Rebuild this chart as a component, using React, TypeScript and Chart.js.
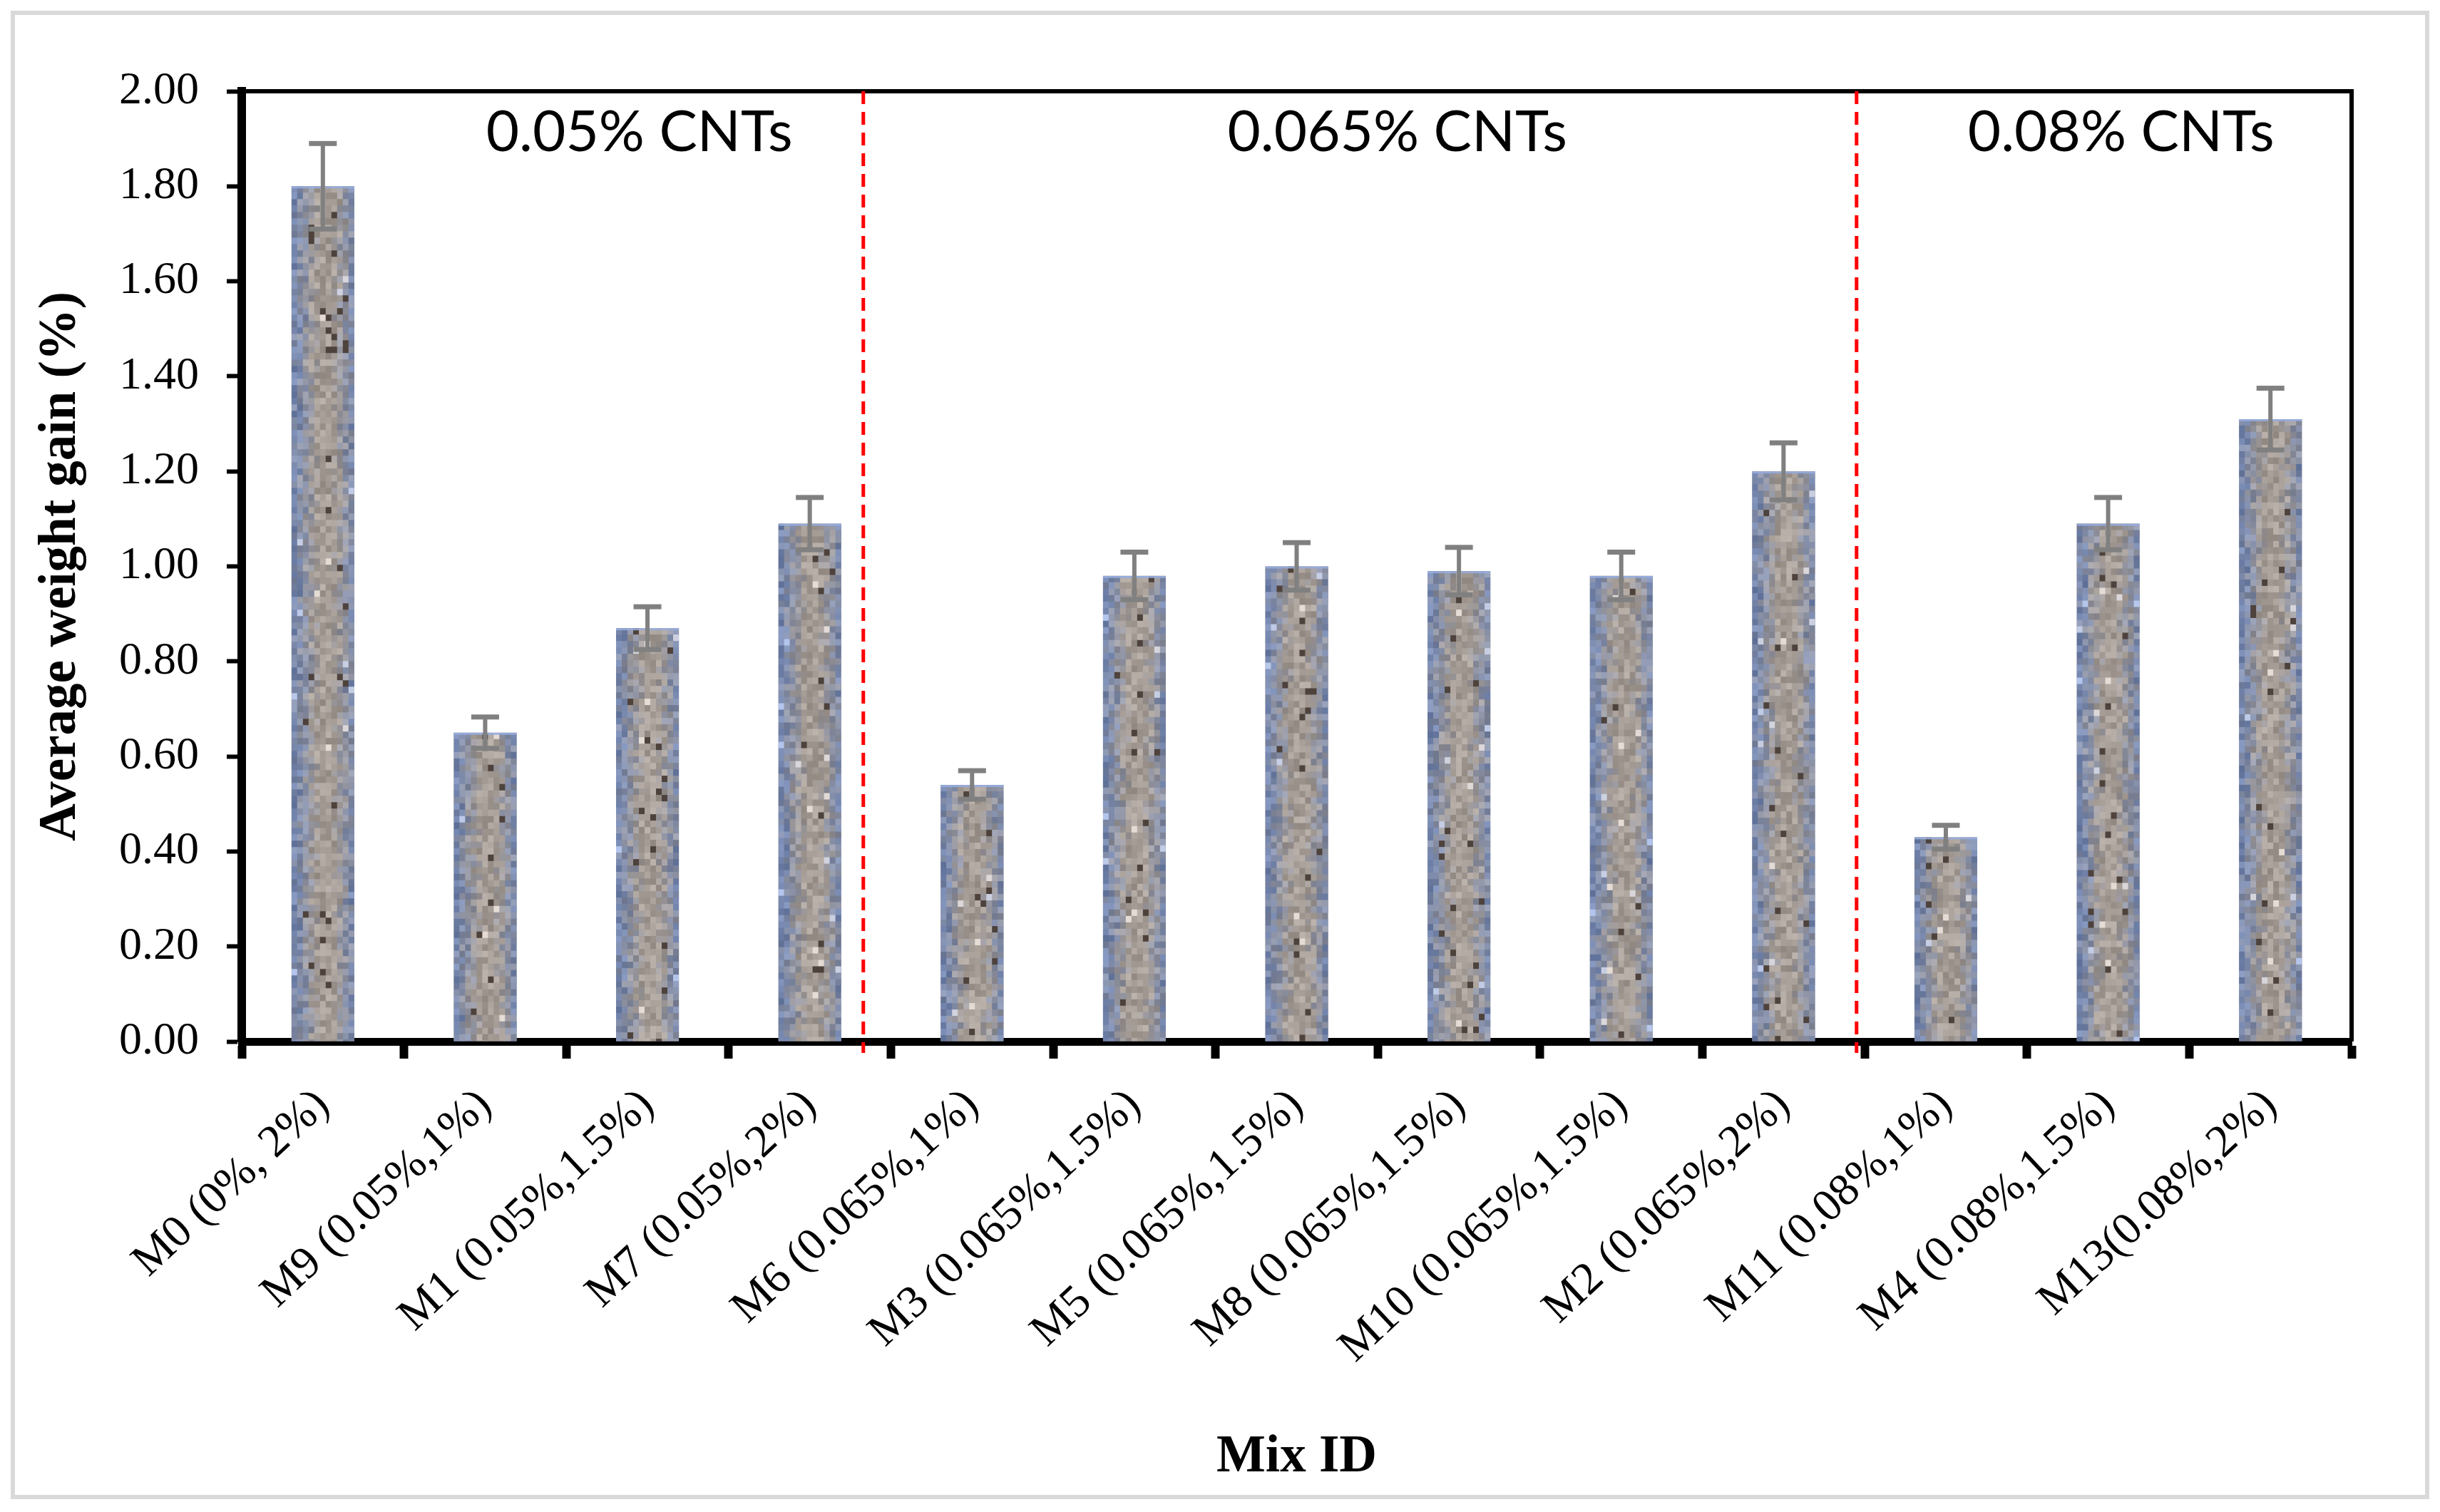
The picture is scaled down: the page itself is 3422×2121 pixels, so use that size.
import React, { useEffect, useRef } from 'react';
import { Chart, registerables } from 'chart.js';

Chart.register(...registerables);

// ---------- data ----------
const categories = [
  'M0 (0%, 2%)',
  'M9 (0.05%,1%)',
  'M1 (0.05%,1.5%)',
  'M7 (0.05%,2%)',
  'M6 (0.065%,1%)',
  'M3 (0.065%,1.5%)',
  'M5 (0.065%,1.5%)',
  'M8 (0.065%,1.5%)',
  'M10 (0.065%,1.5%)',
  'M2 (0.065%,2%)',
  'M11 (0.08%,1%)',
  'M4 (0.08%,1.5%)',
  'M13(0.08%,2%)',
];
const weightGain = [1.8, 0.65, 0.87, 1.09, 0.54, 0.98, 1.0, 0.99, 0.98, 1.2, 0.43, 1.09, 1.31];
const errorValues = [0.09, 0.033, 0.045, 0.055, 0.03, 0.05, 0.05, 0.05, 0.05, 0.06, 0.025, 0.055, 0.065];
const yMin = 0;
const yMax = 2;
const yStep = 0.2;
const groupLabels = ['0.05% CNTs', '0.065% CNTs', '0.08% CNTs'];
const groupLabelCenters = [1.95, 6.62, 11.08]; // in category-index units
const groupLabelValue = 1.874; // baseline, in y units
const dividerPositions = [3.33, 9.45]; // in category-index units
const yTitle = 'Average weight gain (%)';
const xTitle = 'Mix ID';

// ---------- helpers ----------
function hash3(a: number, b: number, c: number): number {
  let h = Math.imul(a + 1, 374761393) ^ Math.imul(b + 7, 668265263) ^ Math.imul(c + 13, 1274126177);
  h = Math.imul(h ^ (h >>> 13), 1274126177);
  h = h ^ (h >>> 16);
  return (h >>> 0) / 4294967295;
}
function mix(a: number[], b: number[], t: number): number[] {
  return [a[0] + (b[0] - a[0]) * t, a[1] + (b[1] - a[1]) * t, a[2] + (b[2] - a[2]) * t];
}
function clamp(v: number) {
  return Math.max(0, Math.min(255, Math.round(v)));
}

const pagePlugin = {
  id: 'pageFrame',
  beforeDraw(chart: any) {
    const ctx = chart.ctx;
    ctx.save();
    ctx.fillStyle = '#ffffff';
    ctx.fillRect(0, 0, chart.width, chart.height);
    ctx.strokeStyle = '#D9D9D9';
    ctx.lineWidth = 6;
    ctx.strokeRect(18, 18, chart.width - 36, chart.height - 39);
    ctx.restore();
  },
};

const texturePlugin = {
  id: 'barTexture',
  afterDatasetsDraw(chart: any) {
    const ctx = chart.ctx;
    const meta = chart.getDatasetMeta(0);
    const yScale = chart.scales.y;
    const blue = [116, 134, 174];
    const warm = [166, 157, 150];
    meta.data.forEach((bar: any, i: number) => {
      const p = bar.getProps(['x', 'y', 'base', 'width'], true);
      const left = p.x - p.width / 2;
      const top = p.y;
      const h = p.base - p.y;
      const cellW = 8;
      const cellH = 9;
      const cols = Math.ceil(p.width / cellW);
      const rows = Math.ceil(h / cellH);
      ctx.save();
      ctx.beginPath();
      ctx.rect(left, top, p.width, h);
      ctx.clip();
      for (let r = 0; r < rows; r++) {
        for (let c = 0; c < cols; c++) {
          const cx = (c + 0.5) / cols;
          const edge = Math.abs(cx - 0.5) * 2;
          const n = hash3(i, r, c);
          const n2 = hash3(i + 57, r * 3 + 1, c * 5 + 2);
          const t = Math.max(0, Math.min(1, edge * 1.5 - 0.4 + (n2 - 0.5) * 0.6));
          let col = mix(warm, blue, t);
          let k = (n - 0.5) * 46;
          if (n > 0.985) k += 40;
          let dark = false;
          if (n < 0.022 && edge < 0.65) {
            dark = true;
          }
          if (dark) {
            col = [78, 66, 60];
            k = 0;
          }
          col = [col[0] + k, col[1] + k, col[2] + k];
          ctx.fillStyle = `rgb(${clamp(col[0])},${clamp(col[1])},${clamp(col[2])})`;
          ctx.fillRect(left + c * cellW, top + r * cellH, cellW + 0.5, cellH + 0.5);
        }
      }
      ctx.fillStyle = 'rgba(150,172,222,0.9)';
      ctx.fillRect(left, top, p.width, 3);
      ctx.restore();

      // error bars
      const v = weightGain[i];
      const e = errorValues[i];
      const yHi = yScale.getPixelForValue(v + e);
      const yLo = yScale.getPixelForValue(v - e);
      ctx.save();
      ctx.strokeStyle = '#808080';
      ctx.fillStyle = '#808080';
      ctx.lineWidth = 6;
      ctx.beginPath();
      ctx.moveTo(p.x, yHi);
      ctx.lineTo(p.x, yLo);
      ctx.stroke();
      ctx.fillRect(p.x - 19.5, yHi - 3.5, 39, 7);
      ctx.fillRect(p.x - 19.5, yLo - 3.5, 39, 7);
      ctx.restore();
    });

    // group labels
    const xScale = chart.scales.x;
    ctx.save();
    ctx.fillStyle = '#000000';
    ctx.font = '80px Lato';
    ctx.textAlign = 'center';
    ctx.textBaseline = 'alphabetic';
    groupLabels.forEach((lab, k) => {
      ctx.fillText(lab, xScale.getPixelForValue(groupLabelCenters[k]), yScale.getPixelForValue(groupLabelValue));
    });
    ctx.restore();
  },
};

const framePlugin = {
  id: 'frameAndDividers',
  afterDraw(chart: any) {
    const ctx = chart.ctx;
    const a = chart.chartArea;
    const xScale = chart.scales.x;
    ctx.save();
    ctx.strokeStyle = '#000000';
    ctx.lineWidth = 6;
    ctx.beginPath();
    ctx.moveTo(a.left, a.top);
    ctx.lineTo(a.right, a.top);
    ctx.lineTo(a.right, a.bottom);
    ctx.stroke();
    ctx.strokeStyle = '#FF0000';
    ctx.lineWidth = 5;
    ctx.setLineDash([18, 11]);
    dividerPositions.forEach((d) => {
      const x = xScale.getPixelForValue(d);
      ctx.beginPath();
      ctx.moveTo(x, a.top);
      ctx.lineTo(x, a.bottom + 16);
      ctx.stroke();
    });
    ctx.restore();
  },
};

export default function App() {
  const ref = useRef<HTMLCanvasElement | null>(null);
  useEffect(() => {
    if (!ref.current) return;
    const chart = new Chart(ref.current, {
      type: 'bar',
      data: {
        labels: categories,
        datasets: [
          {
            label: 'Average weight gain',
            data: weightGain,
            backgroundColor: '#9A96A0',
            borderWidth: 0,
            categoryPercentage: 1,
            barPercentage: 0.387,
          },
        ],
      },
      options: {
        animation: false,
        responsive: false,
        devicePixelRatio: 1,
        layout: { padding: { left: 0, top: 128, right: 124, bottom: 0 } },
        plugins: { legend: { display: false }, tooltip: { enabled: false }, title: { display: false } },
        scales: {
          x: {
            type: 'category',
            offset: true,
            grid: {
              display: true,
              drawOnChartArea: false,
              offset: true,
              tickLength: 24,
              tickWidth: 12,
              tickColor: '#000000',
            },
            border: { display: true, color: '#000000', width: 11 },
            ticks: {
              autoSkip: false,
              maxRotation: 43,
              minRotation: 43,
              padding: 28,
              color: '#000000',
              font: { family: 'Liberation Serif', size: 64 },
            },
            title: {
              display: true,
              text: xTitle,
              color: '#000000',
              font: { family: 'Liberation Serif', size: 73, weight: 'bold' },
              padding: { top: 0, bottom: 32 },
            },
            afterFit: (s: any) => {
              s.height = 660;
            },
          },
          y: {
            min: yMin,
            max: yMax,
            grid: {
              display: true,
              drawOnChartArea: false,
              tickLength: 21,
              tickWidth: 6,
              tickColor: '#000000',
            },
            border: { display: true, color: '#000000', width: 12 },
            ticks: {
              stepSize: yStep,
              padding: 39,
              color: '#000000',
              font: { family: 'Liberation Serif', size: 64 },
              callback: (v: any) => Number(v).toFixed(2),
            },
            title: {
              display: true,
              text: yTitle,
              color: '#000000',
              font: { family: 'Liberation Serif', size: 73, weight: 'bold' },
              padding: { top: 42, bottom: 0 },
            },
            afterFit: (s: any) => {
              s.width = 339;
            },
          },
        },
      },
      plugins: [pagePlugin, texturePlugin, framePlugin],
    } as any);
    return () => chart.destroy();
  }, []);
  return (
    <div style={{ position: 'absolute', left: 0, top: 0, width: 3422, height: 2121, background: '#fff' }}>
      <canvas ref={ref} width={3422} height={2121} style={{ width: 3422, height: 2121, display: 'block' }} />
    </div>
  );
}
